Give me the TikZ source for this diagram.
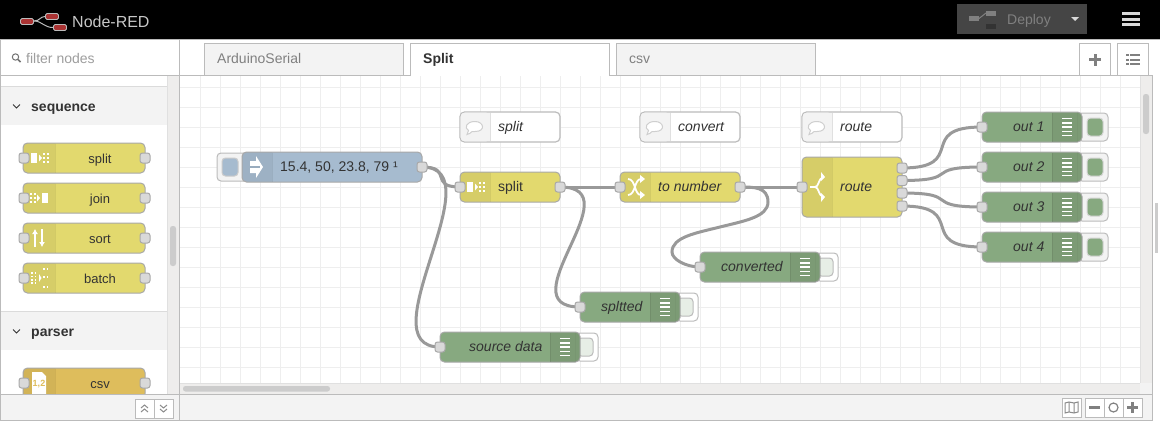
\documentclass[tikz,border=0pt]{standalone}
\usepackage{fontspec}
\setmainfont{Liberation Sans}
\usetikzlibrary{backgrounds,arrows.meta}
\definecolor{cyellow}{HTML}{E2D96E}
\definecolor{cgreen}{HTML}{87A980}
\definecolor{cblue}{HTML}{A6BBCF}
\definecolor{ccsv}{HTML}{DEBD5C}
\definecolor{cbord}{HTML}{A8A8A8}
\definecolor{cpanel}{HTML}{F3F3F3}
\definecolor{cline}{HTML}{BBBBBB}
\definecolor{ctext}{HTML}{333333}
\definecolor{cwire}{HTML}{999999}
\definecolor{cgrid}{HTML}{EEEEEE}
\definecolor{cscroll}{HTML}{EEEDEC}
\definecolor{cgport}{HTML}{D9D9D9}
\definecolor{cred}{HTML}{AA3333}
\tikzset{
  flow/.style={draw=cbord,line width=1pt,rounded corners=4.5pt,inner sep=0pt,minimum height=30pt},
  cmt/.style={draw=cline,line width=1.2pt,rounded corners=4.5pt,inner sep=0pt,minimum height=30pt,minimum width=100pt,fill=white},
  port/.style={draw=cbord,fill=cgport,line width=1pt,rounded corners=2.5pt,inner sep=0pt,minimum size=10pt},
  lab/.style={anchor=base west,inner sep=0pt,text=ctext,font=\fontsize{14}{14}\selectfont},
  lit/.style={lab,font=\fontsize{14}{14}\selectfont\itshape},
  plab/.style={anchor=base,inner sep=0pt,text=ctext,font=\fontsize{13}{13}\selectfont},
  wire/.style={draw=cwire,line width=3pt,line cap=round},
  btn/.style={draw=cline,fill=white,line width=1pt,inner sep=0pt},
  ico/.style={draw=white,line width=1.8pt},
}
% shaded icon strips: x1 y1 x2 y2
\newcommand\stripL[4]{\fill[black,opacity=.05] (#3,#2) [rounded corners=4.5pt] -- (#1,#2) -- (#1,#4) [sharp corners] -- (#3,#4) -- cycle;
  \draw[black,opacity=.06,line width=1pt] (#3,#2) -- (#3,#4);}
\newcommand\stripR[4]{\fill[black,opacity=.08] (#1,#2) -- (#3-4,#2) -- (#3-4,#4) -- (#1,#4) -- cycle;
  \fill[black,opacity=.08] (#3-4,#2) [rounded corners=4pt] -- (#3,#2) -- (#3,#4) [sharp corners] -- (#3-4,#4) -- cycle;
  \draw[black,opacity=.08,line width=1pt] (#1,#2) -- (#1,#4);}
% debug icon at centre x,y
\newcommand\dbgicon[2]{\foreach \k in {-8.2,-4.1,0,4.1,8.2}{\draw[white,line width=1.2pt] (#1-5,#2+\k) -- (#1+5,#2+\k);}}
% output button (active) : x right of node, centre y
\newcommand\onbtn[2]{\draw[draw=cline,fill=cpanel,line width=1pt,rounded corners=4pt] (#1-4,#2-14) rectangle (#1+26,#2+14);
  \draw[draw=cline!60,fill=cgreen,line width=1pt,rounded corners=3.5pt] (#1+5,#2-9) rectangle (#1+21,#2+9);}
\newcommand\offbtn[2]{\draw[draw=cline,fill=white,line width=1pt,rounded corners=4pt] (#1-4,#2-14) rectangle (#1+18,#2+14);
  \draw[draw=cline,fill=cgreen!20,line width=1pt,rounded corners=3.5pt] (#1-2,#2-9) rectangle (#1+13,#2+9);}
% speech bubble centre
\newcommand\bubble[2]{\draw[draw=cline!70,fill=white,line width=1pt] (#1-3,#2+4.5) .. controls (#1-4,#2+6) and (#1-6,#2+7) .. (#1-8,#2+7.5) .. controls (#1-7,#2+6) and (#1-6.5,#2+5) .. (#1-6.5,#2+3.5) .. controls (#1-11,#2+1) and (#1-9,#2-5.5) .. (#1,#2-5.5) .. controls (#1+9,#2-5.5) and (#1+11,#2+4.5) .. (#1,#2+4.5) -- cycle;}
% split icon: centre x,y
\newcommand\dotgrid[4]{\foreach \i in {#3}{\foreach \j in {#4}{\fill[white] (#1+\i-.9,#2+\j-.9) rectangle (#1+\i+.9,#2+\j+.9);}}}
\newcommand\spliticon[2]{\fill[white] (#1-8,#2-5) rectangle (#1-2,#2+5);
  \fill[white] (#1,#2-3.5) -- (#1+3,#2) -- (#1,#2+3.5) -- cycle;
  \dotgrid{#1}{#2}{5,9}{-4,0,4}}
\newcommand\joinicon[2]{\fill[white] (#1+3,#2-5) rectangle (#1+9,#2+5);
  \fill[white] (#1-2,#2-3.5) -- (#1+1,#2) -- (#1-2,#2+3.5) -- cycle;
  \dotgrid{#1}{#2}{-8,-4}{-4,0,4}}
\begin{document}
\begin{tikzpicture}[x=1pt,y=-1pt]
\useasboundingbox (0,0) rectangle (1160,421);
% ---- canvas
\begin{pgfonlayer}{background}
\fill[white] (0,0) rectangle (1160,421);
\foreach \x in {200,220,...,1120}{\draw[cgrid,line width=1pt] (\x,75) -- (\x,383);}
\foreach \y in {87,107,...,367}{\draw[cgrid,line width=1pt] (180,\y) -- (1140,\y);}
\end{pgfonlayer}
% ---- comments
\node[cmt] (c1) at (510,127) {};
\node[cmt] (c2) at (690,127) {};
\node[cmt] (c3) at (852,127) {};
\foreach \a/\b in {460/490,640/670,802/832}{
  \fill[cpanel,rounded corners=4pt] (\a+.6,112.6) rectangle (\b,141.4);
  \fill[cpanel] (\b-5,112.6) rectangle (\b,141.4);
  \draw[black!12,line width=1pt] (\b,112.6) -- (\b,141.4);
  \bubble{\a+15}{127}
}
\node[lit] (tc1) at (498,131) {split};
\node[lit] (tc2) at (678,131) {convert};
\node[lit] (tc3) at (840,131) {route};
% ---- inject
\draw[draw=cline,fill=cpanel,line width=1pt,rounded corners=4pt] (217,153) rectangle (248,181);
\draw[draw=cbord!60,fill=cblue,line width=1pt,rounded corners=3.5pt] (222,158) rectangle (238,176);
\node[flow,fill=cblue,minimum width=180pt] (inj) at (332,167) {};
\stripL{242.5}{152.5}{272}{181.5}
\fill[white] (250,161) -- (256,161) -- (256,156) -- (263,167) -- (256,178) -- (256,173) -- (250,173) -- cycle;
\draw[cblue!92!black,line width=1.2pt] (250,167) -- (260,167);
\node[lab,text=ctext] (tinj) at (280,171) {15.4, 50, 23.8, 79 ¹};
% ---- split
\node[flow,fill=cyellow,minimum width=100pt] (split) at (510,187) {};
\stripL{460.5}{172.5}{490}{201.5}
\spliticon{475}{187}
\node[lab] (tsplit) at (498,191) {split};
% ---- to number
\node[flow,fill=cyellow,minimum width=120pt] (num) at (680,187) {};
\stripL{620.5}{172.5}{650}{201.5}
\draw[ico] (628,179) .. controls (636,179) and (634,195) .. (641,195);
\draw[ico] (628,195) .. controls (636,195) and (634,179) .. (641,179);
\fill[white] (640,175) -- (645,179) -- (640,183) -- cycle;
\fill[white] (640,191) -- (645,195) -- (640,199) -- cycle;
\node[lit] (tnum) at (658,191) {to number};
% ---- route
\node[flow,fill=cyellow,minimum width=100pt,minimum height=60pt] (route) at (852,187) {};
\stripL{802.5}{157.5}{832}{216.5}
\draw[ico] (810,187) -- (815,187) .. controls (819,187) and (818,179) .. (823,177);
\draw[ico] (815,187) .. controls (819,187) and (818,195) .. (823,197);
\fill[white] (821,172) -- (825,177) -- (821,181) -- cycle;
\fill[white] (821,193) -- (825,197) -- (821,202) -- cycle;
\node[lit] (troute) at (840,191) {route};
% ---- debug nodes
\foreach \n/\y/\t in {1/127/out 1,2/167/out 2,3/207/out 3,4/247/out 4}{
  \onbtn{1082}{\y}
  \node[flow,fill=cgreen,minimum width=100pt] (out\n) at (1032,\y) {};
  \stripR{1052}{\y-14.5}{1081.5}{\y+14.5}
  \dbgicon{1067}{\y}
  \node[lit] (tout\n) at (1013,\y+4) {\t};
}
\offbtn{820}{267}
\node[flow,fill=cgreen,minimum width=120pt] (conv) at (760,267) {};
\stripR{790}{252.5}{819.5}{281.5}
\dbgicon{805}{267}
\node[lit] (tconv) at (721,271) {converted};
\offbtn{680}{307}
\node[flow,fill=cgreen,minimum width=100pt] (splt) at (630,307) {};
\stripR{650}{292.5}{679.5}{321.5}
\dbgicon{665}{307}
\node[lit] (tsplt) at (601,311) {spltted};
\offbtn{580}{347}
\node[flow,fill=cgreen,minimum width=140pt] (src) at (510,347) {};
\stripR{550}{332.5}{579.5}{361.5}
\dbgicon{565}{347}
\node[lit] (tsrc) at (469,351) {source data};
% ---- ports
\node[port] (pinj) at (422,167) {};
\node[port] (psi) at (460,187) {};
\node[port] (pso) at (560,187) {};
\node[port] (pni) at (620,187) {};
\node[port] (pno) at (740,187) {};
\node[port] (pri) at (802,187) {};
\node[port] (pr1) at (902,168) {};
\node[port] (pr2) at (902,180.5) {};
\node[port] (pr3) at (902,193) {};
\node[port] (pr4) at (902,206) {};
\foreach \n/\y in {1/127,2/167,3/207,4/247}{\node[port] (po\n) at (982,\y) {};}
\node[port] (pconv) at (700,267) {};
\node[port] (psplt) at (580,307) {};
\node[port] (psrc) at (440,347) {};
% ---- wires
\begin{pgfonlayer}{background}
\draw[wire] (pinj.center) .. controls (454,167) and (428,187) .. (psi.center);
\draw[wire] (pinj.center) .. controls (497,167) and (365,347) .. (psrc.center);
\draw[wire] (pso.center) -- (pni.center);
\draw[wire] (pso.center) .. controls (635,187) and (505,307) .. (psplt.center);
\draw[wire] (pno.center) -- (pri.center);
\draw[wire] (pno.center) .. controls (754,187) and (768,187) .. (768,202) .. controls (768,217) and (744,221) .. (720,227) .. controls (696,233) and (672,237) .. (672,252) .. controls (672,259.5) and (686,267) .. (pconv.center);
\draw[wire] (pr1.center) .. controls (969,168) and (915,127) .. (po1.center);
\draw[wire] (pr2.center) .. controls (963,180.5) and (921,167) .. (po2.center);
\draw[wire] (pr3.center) .. controls (963,193) and (921,207) .. (po3.center);
\draw[wire] (pr4.center) .. controls (969,206) and (915,247) .. (po4.center);
\end{pgfonlayer}
% ---- canvas scrollbars
\fill[cscroll] (180,383) rectangle (1152,394);
\fill[cscroll] (1140,75) rectangle (1152,394);
\fill[cpanel] (1140,383) rectangle (1152,394);
\draw[black!12,line width=1pt] (180,383.5) -- (1140,383.5) (1140.5,75) -- (1140.5,383);
\fill[black!20,rounded corners=2.5pt] (183,386) rectangle (330,391.5);
\fill[black!20,rounded corners=2.5pt] (1143,94) rectangle (1149,134);
\draw[cline,line width=1pt] (1152.5,75) -- (1152.5,421);
\fill[black!20] (1155,203) rectangle (1158,253);
% ---- palette
\fill[white] (0,75) rectangle (180,394);
\fill[cscroll] (167,75) rectangle (180,394);
\fill[black!20,rounded corners=2.5pt] (170,226) rectangle (176,266);
\draw[black!12,line width=1pt] (167.5,75) -- (167.5,394);
\fill[cpanel] (1,87) rectangle (167,125);
\draw[black!14,line width=1pt] (1,86.5) -- (167,86.5);
\fill[cpanel] (1,312) rectangle (167,350);
\draw[black!14,line width=1pt] (1,311.5) -- (167,311.5);
\draw[ctext,line width=1pt] (13,104.5) -- (16.5,108) -- (20,104.5);
\draw[ctext,line width=1pt] (13,329.5) -- (16.5,333) -- (20,329.5);
\node[lab,font=\fontsize{14}{14}\selectfont\bfseries] (cat1) at (31,111) {sequence};
\node[lab,font=\fontsize{14}{14}\selectfont\bfseries] (cat2) at (31,336) {parser};
\foreach \n/\y/\t/\c in {a/158/split/cyellow,b/198/join/cyellow,c/238/sort/cyellow,d/278/batch/cyellow,e/383/csv/ccsv}{
  \node[flow,fill=\c,minimum width=122pt] (pal\n) at (84,\y) {};
  \stripL{23.5}{\y-14.5}{55}{\y+14.5}
  \node[plab] (tp\n) at (100,\y+5) {\t};
  \node[port] (pl\n) at (24,\y) {};
  \node[port] (pr\n) at (145,\y) {};
}
\spliticon{39}{158}
\joinicon{39}{198}
\draw[-{Latex[length=5pt,width=6pt]},white,line width=2pt] (35,247) -- (35,229);
\draw[-{Latex[length=5pt,width=6pt]},white,line width=2pt] (42,229) -- (42,247);
\dotgrid{39}{278}{-7,-3.5}{-5,-1.5,2,5}
\fill[white] (39,274) -- (41.5,278) -- (39,282) -- cycle;
\dotgrid{39}{278}{5,8.5}{-9,-1,9}
\fill[white] (32,372) -- (42,372) -- (46,376) -- (46,394) -- (32,394) -- cycle;
\node[anchor=base,inner sep=0pt,text=ccsv,font=\fontsize{9}{9}\selectfont\bfseries] (csvi) at (39,386) {1,2};
% ---- tab bar
\fill[white] (0,40) rectangle (1160,75);
\draw[cline,line width=1pt] (0,75.5) -- (1152,75.5);
\draw[cline,line width=1pt,fill=cpanel] (204.5,75) -- (204.5,43.5) -- (403.5,43.5) -- (403.5,75);
\draw[cline,line width=1pt,fill=white] (410.5,76) -- (410.5,43.5) -- (609.5,43.5) -- (609.5,76);
\fill[white] (411,73) rectangle (609,76);
\draw[cline,line width=1pt,fill=cpanel] (616.5,75) -- (616.5,43.5) -- (815.5,43.5) -- (815.5,75);
\node[lab,text=black!50] (tab1) at (217,63) {ArduinoSerial};
\node[lab,font=\fontsize{14}{14}\selectfont\bfseries] (tab2) at (423,63) {Split};
\node[lab,text=black!50] (tab3) at (629,63) {csv};
\draw[cline,line width=1pt,fill=white] (1079.5,75) -- (1079.5,43.5) -- (1110.5,43.5) -- (1110.5,75);
\draw[cline,line width=1pt,fill=white] (1117.5,75) -- (1117.5,43.5) -- (1148.5,43.5) -- (1148.5,75);
\fill[black!50] (1089,58) rectangle (1101,61);
\fill[black!50] (1093.5,53.5) rectangle (1096.5,65.5);
\foreach \y in {55,59.5,64}{
  \fill[black!50] (1130,\y-1) rectangle (1140,\y+1);
  \fill[black!50] (1126,\y-1) rectangle (1128.5,\y+1);
}
% filter
\draw[cline,line width=1pt] (0.5,40) -- (0.5,421) (179.5,40) -- (179.5,421);
\draw[black!55,line width=1pt] (15.5,57) circle (3.2pt);
\draw[black!55,line width=1.5pt] (18,59.5) -- (20.5,62);
\node[lab,text=black!38] (filt) at (26,63) {filter nodes};
% ---- header
\fill[black] (0,0) rectangle (1160,39);
\draw[cline,line width=1pt] (0,39.5) -- (1160,39.5);
\draw[cline,line width=1pt] (34,21) .. controls (40,21) and (40,16.5) .. (45,16.5);
\draw[cline,line width=1pt] (34,21) .. controls (42,21) and (44,27.5) .. (53,27.5);
\draw[cline,fill=cred,line width=.8pt,rounded corners=1.5pt] (20.5,18.5) rectangle (33.5,24.5);
\draw[cline,fill=cred,line width=.8pt,rounded corners=1.5pt] (45.5,13.5) rectangle (58.5,19.5);
\draw[cline,fill=cred,line width=.8pt,rounded corners=1.5pt] (53.5,24.5) rectangle (66.5,30.5);
\node[lab,text=black!22,font=\fontsize{16}{16}\selectfont] (logo) at (72,27) {Node-RED};
\fill[black!73] (957,4) rectangle (1087,34);
\fill[black!50] (969,16) rectangle (979,21);
\fill[black!50] (986,11) rectangle (996,16);
\fill[black!80] (986,24) rectangle (996,29);
\draw[black!50,line width=1pt] (979,18.5) -- (986,13);
\node[lab,text=black!50] (depl) at (1007,24) {Deploy};
\fill[black!15] (1071,17) -- (1079,17) -- (1075,21) -- cycle;
\foreach \y in {12,18,23}{\fill[black!15] (1122,\y) rectangle (1140,\y+3);}
% ---- bottom bars
\fill[cpanel] (1,394) rectangle (179,421);
\fill[cpanel] (180,394) rectangle (1152,421);
\draw[cline,line width=1pt] (0,394.5) -- (1152,394.5);
\draw[cline,line width=1pt] (0,420.5) -- (1152,420.5);
\draw[cline,line width=1pt] (0.5,394) -- (0.5,421) (179.5,394) -- (179.5,421) (1152.5,394) -- (1152.5,421);
\node[btn,minimum width=19pt,minimum height=19pt] (bup) at (144.5,408.5) {};
\node[btn,minimum width=19pt,minimum height=19pt] (bdn) at (163.5,408.5) {};
\draw[black!45,line width=1pt] (141,408) -- (144.5,405) -- (148,408) (141,412) -- (144.5,409) -- (148,412);
\draw[black!45,line width=1pt] (160,405) -- (163.5,408) -- (167,405) (160,409) -- (163.5,412) -- (167,409);
\node[btn,minimum width=19pt,minimum height=19pt] (bmap) at (1071.5,407.5) {};
\draw[black!45,line width=1pt] (1065,403) -- (1069,402) -- (1074,403) -- (1078,402) -- (1078,412) -- (1074,413) -- (1069,412) -- (1065,413) -- cycle (1069,402) -- (1069,412) (1074,403) -- (1074,413);
\node[btn,minimum width=19pt,minimum height=19pt] (bmin) at (1094.5,407.5) {};
\node[btn,minimum width=19pt,minimum height=19pt] (bres) at (1113.5,407.5) {};
\node[btn,minimum width=19pt,minimum height=19pt] (bplu) at (1132.5,407.5) {};
\fill[black!50] (1089,406) rectangle (1100,409);
\draw[black!50,line width=1.2pt] (1113.5,407.5) circle (4.5pt);
\fill[black!50] (1127,406) rectangle (1138,409);
\fill[black!50] (1131,402) rectangle (1134,413);
\end{tikzpicture}
\end{document}
